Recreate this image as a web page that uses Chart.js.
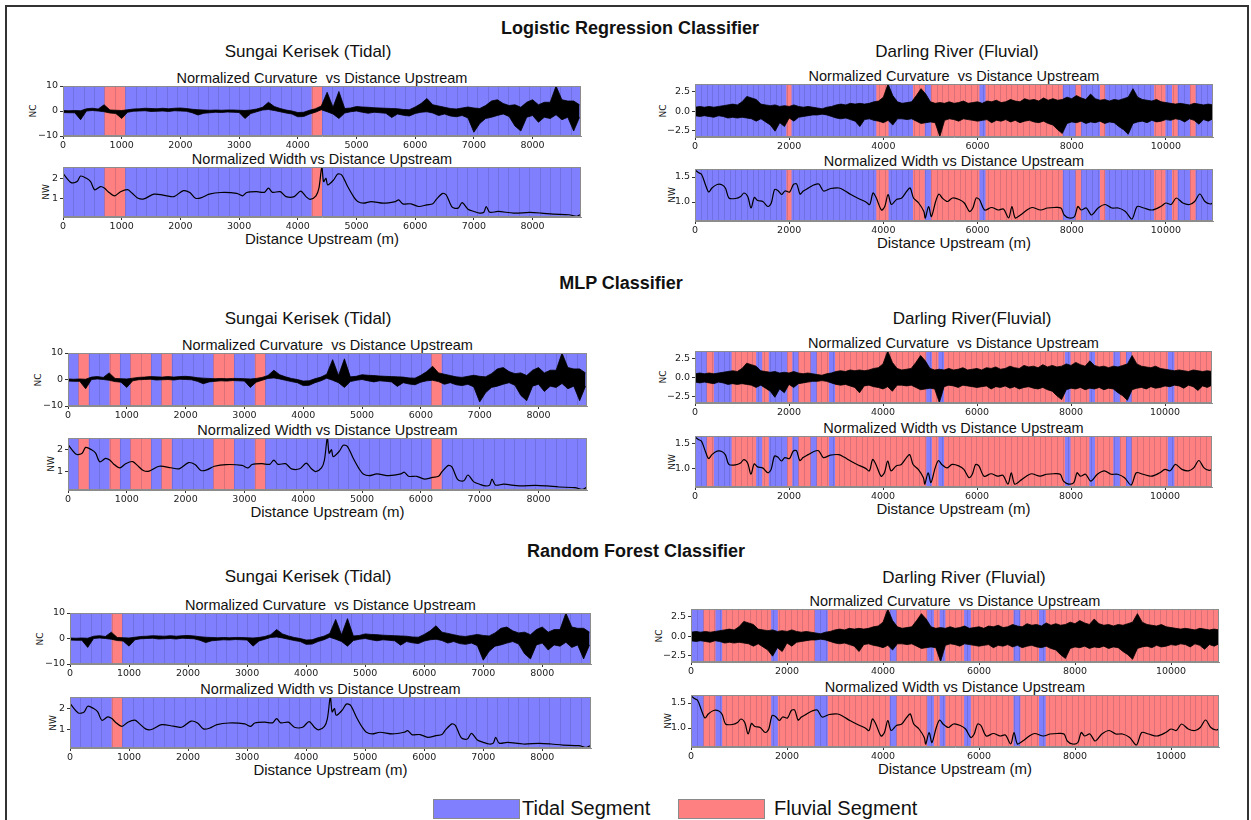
<!DOCTYPE html>
<html lang="en">
<head>
<meta charset="UTF-8">
<title>Tidal / Fluvial segment classification</title>
<style>
  body { margin: 0; background: #fff; }
  #fig { position: relative; width: 1251px; height: 820px; overflow: hidden; font-family: "Liberation Sans", Arial, sans-serif; color: #111; }
  #frame { position: absolute; left: 5px; top: 5px; width: 1240px; height: 830px; border: 2px solid #333; }
  .t { position: absolute; white-space: pre; transform: translate(-50%, -50%); }
  .cls { font-weight: bold; font-size: 18px; }
  .riv { font-size: 17px; }
  .ttl { font-size: 14.5px; }
  .xl { font-size: 15px; }
  .yl { font-family: "DejaVu Sans", sans-serif; font-size: 9px; transform: translate(-50%, -50%) rotate(-90deg); }
  canvas { position: absolute; }
  .box { position: absolute; border: 1.5px solid #8a8a8a; box-sizing: border-box; }
  .leg { position: absolute; font-size: 20px; transform: translateY(-50%); white-space: nowrap; }
</style>
</head>
<body>
<div id="fig"><div id="frame"></div></div>
<script src="https://cdn.jsdelivr.net/npm/chart.js"></script>
<script>
// ---- Sungai Kerisek (tidal) ----
const skMax = 8825;
const skSeg = 176.5;                     // segment length (m)
const skXTicks = [0, 1000, 2000, 3000, 4000, 5000, 6000, 7000, 8000];
const skNcTicks = [-10, 0, 10];
const skNwTicks = [1, 2];
// normalized curvature: top / bottom edge of the noisy band, every 100 m
const skNcStep = 100;
const skNcHi = [0.2, 0.1, 0.2, 0.1, 0.9, 1.1, 0.8, 2.5, 0.4, 0.3, 0.2, 0.5, 0.8, 0.9, 1.1, 1.0, 0.9, 1.1, 0.9, 1.1,
  1.2, 1.0, 0.7, 0.5, 0.4, 0.3, 0.4, 0.3, 0.4, 0.4, 0.3, 0.2, 0.4, 0.8, 1.5, 3.5, 1.8, 1.0, 0.4, 0.0,
  -0.6, -0.5, 0.3, 0.9, 2.0, 7.5, 1.5, 7.8, 1.0, 1.2, 1.8, 1.6, 1.5, 1.3, 1.2, 1.1, 1.0, 0.9, 0.6, 0.5,
  1.6, 3.0, 5.0, 2.5, 2.0, 1.5, 1.0, 0.8, 1.2, 1.6, 1.2, 1.0, 2.2, 4.0, 4.5, 3.0, 2.2, 2.5, 1.5, 3.5,
  4.5, 2.5, 3.5, 3.5, 10.0, 4.5, 4.0, 4.0, 2.5];
const skNcLo = [-0.6, -0.7, -0.7, -3.5, 0.0, 0.2, 0.0, -0.3, -0.8, -1.0, -3.0, -0.5, -0.1, 0.0, 0.1, -0.2, -0.1, 0.0, -0.2, 0.1,
  0.0, -0.1, -0.7, -1.6, -0.9, -0.7, -0.5, -0.6, -0.4, -0.5, -0.6, -3.0, -1.0, -0.3, 0.4, 0.6, 0.2, -0.3, -0.8, -1.2,
  -2.3, -2.2, -1.2, -0.5, 0.5, -0.3, -1.2, -3.0, -0.8, -0.3, 0.0, -0.5, -0.9, -0.5, -0.7, -0.9, -2.6, -1.2, -1.7, -2.0,
  -1.0, -0.5, -0.3, -0.8, -1.8, -1.2, -2.0, -2.3, -1.8, -2.8, -8.5, -5.0, -3.0, -2.5, -1.8, -1.2, -2.2, -6.0, -8.0, -2.5,
  -1.8, -4.5, -2.5, -3.0, -1.5, -3.5, -2.5, -8.0, -2.5];
// normalized width
const skNwX = [0, 140, 240, 300, 400, 470, 540, 640, 710, 770, 880, 980, 1100, 1180, 1280, 1380, 1550, 1750, 1890, 2050,
  2160, 2260, 2360, 2490, 2690, 2960, 3060, 3130, 3300, 3430, 3500, 3570, 3700, 3800, 3940, 4050, 4140, 4210, 4310, 4360,
  4410, 4440, 4480, 4510, 4610, 4680, 4750, 4850, 4950, 5020, 5120, 5250, 5460, 5660, 5720, 5790, 5930, 6060, 6200, 6300,
  6360, 6470, 6530, 6630, 6730, 6800, 6900, 7000, 7100, 7170, 7210, 7270, 7410, 7680, 7950, 8150, 8350, 8620, 8750, 8810];
const skNwY = [2.24, 1.79, 1.84, 2.11, 2.0, 1.84, 1.44, 1.6, 1.52, 1.35, 1.15, 1.35, 1.45, 1.27, 1.03, 1.0, 1.23, 1.16, 1.11, 1.4,
  1.31, 1.03, 1.06, 1.23, 1.31, 1.27, 1.15, 1.31, 1.35, 1.32, 1.52, 1.32, 1.35, 1.11, 1.11, 1.38, 1.11, 0.98, 1.15, 1.52,
  2.56, 1.84, 2.0, 1.68, 1.92, 2.21, 2.16, 1.6, 1.11, 0.87, 0.79, 0.87, 0.79, 0.87, 0.95, 0.76, 0.76, 0.63, 0.71, 0.76,
  0.98, 1.27, 1.19, 0.6, 0.55, 0.82, 0.5, 0.39, 0.31, 0.35, 0.63, 0.35, 0.39, 0.31, 0.34, 0.31, 0.26, 0.23, 0.15, 0.23];

// ---- Darling River (fluvial) ----
const dlMax = 11000;
const dlSeg = 122.2;
const dlXTicks = [0, 2000, 4000, 6000, 8000, 10000];
const dlNcTicks = [-2.5, 0, 2.5];
const dlNwTicks = [1.0, 1.5];
const dlNcStep = 100;
const dlNcHi = [0.5, 0.6, 0.5, 0.6, 0.5, 0.6, 0.7, 0.8, 0.9, 0.8, 1.2, 1.9, 1.7, 1.5, 0.9, 0.8, 0.7, 0.8, 0.6, 0.7,
  0.6, 0.8, 0.6, 0.5, 0.6, 0.5, 0.4, 0.3, 0.5, 0.6, 0.8, 0.9, 0.8, 1.0, 0.9, 1.0, 0.9, 1.0, 1.2, 1.3,
  1.8, 3.5, 2.0, 1.2, 1.0, 1.1, 1.2, 2.0, 2.9, 2.2, 1.2, 1.0, 1.1, 1.0, 1.2, 1.0, 1.1, 1.3, 1.0, 1.1,
  1.2, 1.0, 1.3, 1.2, 1.4, 1.1, 1.2, 1.5, 1.3, 1.2, 1.6, 1.4, 1.5, 1.3, 1.7, 1.4, 1.6, 1.4, 1.5, 1.8,
  1.6, 2.0, 1.7, 1.5, 2.2, 1.6, 1.4, 1.5, 1.3, 1.5, 1.4, 1.6, 1.8, 2.9, 1.8, 1.5, 1.4, 1.3, 1.5, 1.2,
  1.1, 1.0, 0.9, 1.0, 0.9, 0.8, 1.0, 0.9, 0.8, 0.9, 0.8];
const dlNcLo = [-0.6, -0.7, -0.6, -0.7, -0.8, -0.6, -0.7, -0.9, -0.8, -0.9, -0.8, -0.9, -1.0, -1.3, -1.0, -1.4, -1.8, -2.6, -1.5, -2.0,
  -0.9, -1.3, -0.8, -0.7, -0.6, -0.5, -0.5, -0.4, -0.5, -0.7, -0.9, -1.0, -0.9, -1.1, -1.3, -2.0, -1.1, -1.0, -1.2, -1.3,
  -1.5, -1.2, -1.8, -1.0, -1.0, -1.1, -1.0, -1.3, -1.6, -1.5, -1.4, -1.5, -3.3, -1.2, -1.0, -1.1, -1.3, -1.0, -1.1, -1.2,
  -1.3, -1.2, -1.1, -1.5, -1.2, -1.3, -1.1, -1.4, -1.2, -1.5, -1.3, -1.2, -1.4, -1.5, -1.3, -1.6, -1.8, -2.4, -2.9, -1.6,
  -1.4, -1.5, -1.3, -1.6, -1.4, -1.5, -1.3, -1.6, -1.4, -1.5, -2.0, -2.4, -3.0, -1.6, -1.4, -1.3, -1.5, -1.2, -1.4, -1.3,
  -1.1, -1.2, -1.0, -1.1, -1.4, -1.0, -1.2, -1.7, -1.1, -1.3, -1.0];
const dlNwX = [0, 70, 140, 220, 290, 360, 470, 580, 650, 720, 860, 970, 1040, 1120, 1190, 1260, 1330, 1440, 1550, 1620,
  1690, 1760, 1840, 1910, 2010, 2090, 2160, 2230, 2300, 2410, 2520, 2630, 2730, 2880, 3060, 3170, 3310, 3450, 3630, 3710,
  3780, 3850, 3960, 4030, 4100, 4170, 4280, 4390, 4500, 4570, 4640, 4750, 4860, 4890, 4960, 5020, 5110, 5180, 5250, 5360,
  5470, 5610, 5720, 5830, 5900, 5970, 6040, 6150, 6300, 6440, 6550, 6660, 6730, 6800, 6910, 7050, 7160, 7340, 7480, 7630,
  7770, 7840, 7950, 8060, 8130, 8200, 8310, 8420, 8560, 8710, 8850, 8990, 9140, 9280, 9390, 9530, 9710, 9890, 10000, 10110,
  10220, 10360, 10500, 10610, 10720, 10830, 10940, 11000];
const dlNwY = [1.64, 1.59, 1.55, 1.35, 1.2, 1.28, 1.35, 1.34, 1.27, 1.08, 1.07, 1.11, 1.18, 1.11, 0.88, 1.09, 1.03, 1.01, 0.91, 0.98,
  1.25, 1.23, 1.15, 1.22, 1.2, 1.35, 1.36, 1.16, 1.22, 1.28, 1.34, 1.36, 1.22, 1.27, 1.28, 1.23, 1.15, 1.08, 1.0, 0.95,
  1.18, 1.08, 0.84, 0.91, 1.15, 0.95, 1.05, 1.08, 1.22, 1.28, 1.08, 0.98, 0.81, 0.68, 0.91, 0.71, 1.01, 1.16, 1.08, 1.01,
  1.08, 1.05, 0.98, 0.81, 0.88, 1.08, 1.05, 0.84, 0.89, 0.84, 0.86, 0.68, 0.91, 0.68, 0.74, 0.84, 0.89, 0.84, 0.88, 0.89,
  0.88, 0.74, 0.68, 0.71, 0.91, 0.84, 0.88, 0.74, 0.88, 0.95, 0.88, 0.88, 0.81, 0.66, 0.91, 0.88, 0.84, 0.91, 0.98, 0.95,
  1.08, 0.98, 0.95, 1.01, 1.16, 1.01, 0.96, 0.98];

// ---- predicted fluvial stretches [start, end] in m (rest is tidal) ----
const lrSungai = [[706, 1059], [4236, 4413]];
const lrDarling = [[1940, 2050], [3850, 4110], [4630, 4880], [5010, 6040], [6170, 7810], [8080, 8200], [8600, 8710],
  [9750, 9990], [10130, 10250], [10510, 10630]];
const mlpSungai = [[177, 353], [706, 883], [1059, 1412], [1589, 1765], [2471, 2824], [3177, 3354], [6178, 6354]];
const mlpDarling = [[250, 400], [780, 1300], [1430, 1570], [1960, 2070], [2200, 2460], [2590, 2850], [2980, 4920],
  [5040, 5180], [5300, 7870], [7990, 8390], [8510, 8900], [9040, 9170], [9290, 10060], [10200, 11000]];
const rfSungai = [[706, 883]];
const rfDarling = [[260, 510], [650, 1670], [1810, 2580], [2850, 4140], [4280, 4920], [5060, 5180], [5300, 5690],
  [5830, 6720], [6860, 7250], [7390, 11000]];

const TIDAL = '#8080ff';
const FLUVIAL = '#ff8080';

const rivers = {
  sk: { xMax: skMax, seg: skSeg, xTicks: skXTicks,
        nc: { hi: skNcHi, lo: skNcLo, step: skNcStep, min: -10, max: 10, ticks: skNcTicks, dec: 0 },
        nw: { x: skNwX, y: skNwY, min: 0.12, max: 2.55, ticks: skNwTicks, dec: 0 } },
  dl: { xMax: dlMax, seg: dlSeg, xTicks: dlXTicks,
        nc: { hi: dlNcHi, lo: dlNcLo, step: dlNcStep, min: -3.35, max: 3.5, ticks: dlNcTicks, dec: 1 },
        nw: { x: dlNwX, y: dlNwY, min: 0.62, max: 1.66, ticks: dlNwTicks, dec: 1 } }
};

// plot rectangles [left, top, width, height]
const panels = [
  { river: 'sk', runs: lrSungai,  name: 'Sungai Kerisek (Tidal)',  nx: 308, ny: 52,  nc: [63, 86, 518, 50],   nw: [63, 167, 518, 50] },
  { river: 'dl', runs: lrDarling, name: 'Darling River (Fluvial)', nx: 957, ny: 52,  nc: [695, 84, 518, 53],  nw: [695, 169, 518, 52] },
  { river: 'sk', runs: mlpSungai, name: 'Sungai Kerisek (Tidal)',  nx: 308, ny: 319, nc: [68, 353, 519, 53],  nw: [68, 438, 519, 52] },
  { river: 'dl', runs: mlpDarling, name: 'Darling River(Fluvial)', nx: 972, ny: 319, nc: [695, 351, 517, 52], nw: [695, 436, 517, 51] },
  { river: 'sk', runs: rfSungai,  name: 'Sungai Kerisek (Tidal)',  nx: 308, ny: 577, nc: [70, 613, 521, 51],  nw: [70, 697, 521, 51] },
  { river: 'dl', runs: rfDarling, name: 'Darling River (Fluvial)', nx: 964, ny: 578, nc: [691, 609, 528, 53], nw: [691, 695, 528, 52] }
];
const classifiers = [
  { name: 'Logistic Regression Classifier', x: 630, y: 28 },
  { name: 'MLP Classifier', x: 621, y: 283 },
  { name: 'Random Forest Classifier', x: 636, y: 551 }
];

const fig = document.getElementById('fig');
const PADL = 40, PADT = 8, PADR = 14, PADB = 22;
const tickFont = { family: 'DejaVu Sans', size: 9.5 };

function addText(txt, x, y, cls) {
  const d = document.createElement('div');
  d.className = 't ' + cls;
  d.textContent = txt;
  d.style.left = x + 'px';
  d.style.top = y + 'px';
  fig.appendChild(d);
}

// coloured classification stripes behind the data
const segBg = {
  id: 'segBg',
  beforeDatasetsDraw(chart, args, opts) {
    const { ctx, chartArea: a, scales: { x } } = chart;
    ctx.save();
    ctx.beginPath();
    ctx.rect(a.left, a.top, a.width, a.height);
    ctx.clip();
    ctx.fillStyle = TIDAL;
    ctx.fillRect(a.left, a.top, a.width, a.height);
    ctx.fillStyle = FLUVIAL;
    opts.runs.forEach(([s, e]) => {
      const x0 = x.getPixelForValue(s), x1 = x.getPixelForValue(e);
      ctx.fillRect(x0, a.top, x1 - x0, a.height);
    });
    ctx.strokeStyle = 'rgba(30,30,80,0.16)';
    ctx.lineWidth = 1;
    for (let v = opts.seg; v < x.max; v += opts.seg) {
      const px = Math.round(x.getPixelForValue(v)) + 0.5;
      ctx.beginPath();
      ctx.moveTo(px, a.top);
      ctx.lineTo(px, a.bottom);
      ctx.stroke();
    }
    ctx.restore();
  }
};

const frame = {
  id: 'frame',
  afterDatasetsDraw(chart) {
    const { ctx, chartArea: a } = chart;
    ctx.save();
    ctx.strokeStyle = '#8c8c8c';
    ctx.lineWidth = 1;
    ctx.strokeRect(Math.round(a.left) + 0.5, Math.round(a.top) + 0.5, Math.round(a.width) - 1, Math.round(a.height) - 1);
    ctx.restore();
  }
};

function makePanel(rect, r, kind, runs) {
  const [L, T, W, H] = rect;
  const cv = document.createElement('canvas');
  cv.width = W + PADL + PADR;
  cv.height = H + PADT + PADB;
  cv.style.left = (L - PADL) + 'px';
  cv.style.top = (T - PADT) + 'px';
  fig.appendChild(cv);

  const s = r[kind];
  let datasets;
  if (kind === 'nc') {
    // noisy curvature drawn as a black band between its top and bottom edges
    const pts = arr => arr.map((v, i) => ({ x: i * s.step, y: v }));
    datasets = [
      { data: pts(s.hi), borderColor: '#000', borderWidth: 0.8, pointRadius: 0, fill: false },
      { data: pts(s.lo), borderColor: '#000', borderWidth: 0.8, pointRadius: 0, fill: '-1', backgroundColor: '#000' }
    ];
  } else {
    datasets = [{
      data: s.x.map((v, i) => ({ x: v, y: s.y[i] })),
      borderColor: '#000', borderWidth: 1.2, pointRadius: 0, tension: 0.3, fill: false
    }];
  }

  new Chart(cv, {
    type: 'line',
    data: { datasets },
    options: {
      responsive: false,
      animation: false,
      events: [],
      layout: { padding: { top: PADT, right: PADR, left: 0, bottom: 0 } },
      plugins: {
        legend: { display: false },
        tooltip: { enabled: false },
        segBg: { runs: runs, seg: r.seg }
      },
      scales: {
        x: {
          type: 'linear', min: 0, max: r.xMax,
          afterFit: sc => { sc.height = PADB; },
          afterBuildTicks: sc => { sc.ticks = r.xTicks.map(v => ({ value: v })); },
          grid: { drawOnChartArea: false, drawTicks: true, tickLength: 3, color: '#333' },
          border: { color: '#8c8c8c' },
          ticks: { font: tickFont, color: '#222', padding: 1, maxRotation: 0, autoSkip: false, callback: v => String(v) }
        },
        y: {
          type: 'linear', min: s.min, max: s.max,
          afterFit: sc => { sc.width = PADL; },
          afterBuildTicks: sc => { sc.ticks = s.ticks.map(v => ({ value: v })); },
          grid: { drawOnChartArea: false, drawTicks: true, tickLength: 3, color: '#333' },
          border: { color: '#8c8c8c' },
          ticks: { font: tickFont, color: '#222', padding: 2, autoSkip: false,
                   callback: v => v.toFixed(s.dec).replace('-', '\u2212') }
        }
      }
    },
    plugins: [segBg, frame]
  });
}

classifiers.forEach(c => addText(c.name, c.x, c.y, 'cls'));

panels.forEach(p => {
  const r = rivers[p.river];
  addText(p.name, p.nx, p.ny, 'riv');
  const [ncL, ncT, ncW, ncH] = p.nc;
  const [nwL, nwT, nwW, nwH] = p.nw;
  addText('Normalized Curvature  vs Distance Upstream', ncL + ncW / 2, ncT - 8, 'ttl');
  addText('Normalized Width vs Distance Upstream', nwL + nwW / 2, nwT - 8, 'ttl');
  addText('Distance Upstream (m)', nwL + nwW / 2, nwT + nwH + 21, 'xl');
  const wide = p.river === 'dl';
  addText('NC', ncL - (wide ? 32 : 30), ncT + ncH / 2, 'yl');
  addText('NW', nwL - (wide ? 23 : 17), nwT + nwH / 2, 'yl');
  makePanel(p.nc, r, 'nc', p.runs);
  makePanel(p.nw, r, 'nw', p.runs);
});

// legend
[[TIDAL, 'Tidal Segment', 433, 522], [FLUVIAL, 'Fluvial Segment', 678, 774]].forEach(([col, label, bx, tx]) => {
  const b = document.createElement('div');
  b.className = 'box';
  b.style.cssText = `left:${bx}px;top:799px;width:87px;height:20px;background:${col};`;
  fig.appendChild(b);
  const t = document.createElement('div');
  t.className = 'leg';
  t.textContent = label;
  t.style.left = tx + 'px';
  t.style.top = '808px';
  fig.appendChild(t);
});
</script>
</body>
</html>
